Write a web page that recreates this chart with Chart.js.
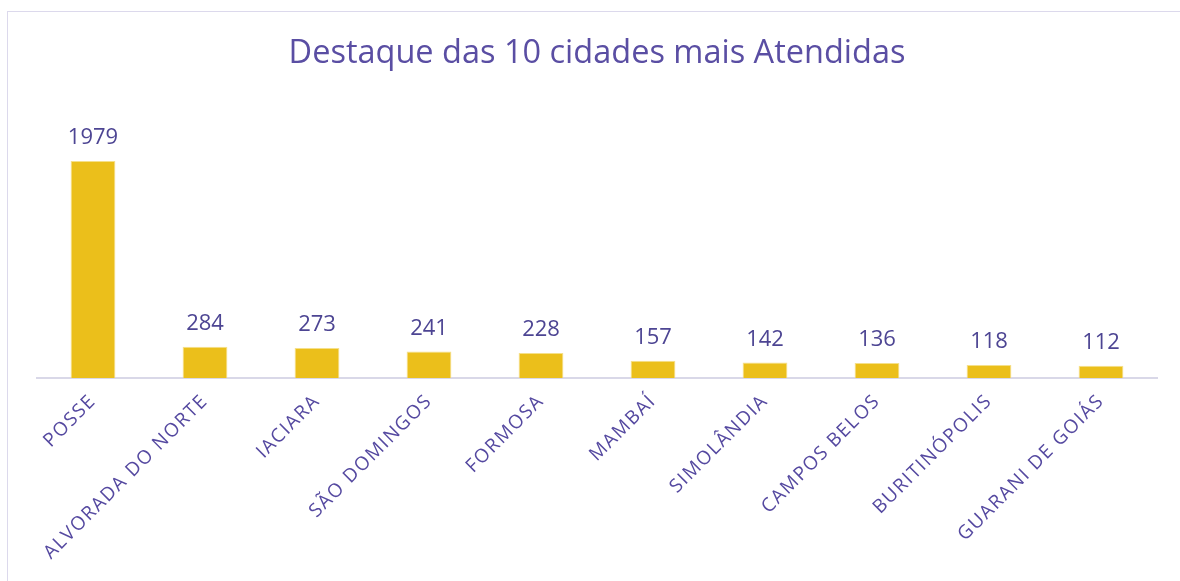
<!DOCTYPE html>
<html>
<head>
<meta charset="utf-8">
<script src="https://cdn.jsdelivr.net/npm/chart.js@4/dist/chart.umd.min.js"></script>
<style>
  html, body { margin: 0; padding: 0; background: #fff; overflow: hidden; }
  #wrap { position: relative; width: 1180px; height: 581px; }
  #frame { position: absolute; left: 7px; top: 11px; width: 1200px; height: 600px; border: 1px solid #dcd9ec; box-sizing: border-box; }
  canvas { position: absolute; left: 0; top: 0; }
</style>
</head>
<body>
<div id="wrap">
  <div id="frame"></div>
  <canvas id="chart" width="1180" height="581"></canvas>
</div>
<script>
const cities = ['POSSE', 'ALVORADA DO NORTE', 'IACIARA', 'SÃO DOMINGOS', 'FORMOSA', 'MAMBAÍ', 'SIMOLÂNDIA', 'CAMPOS BELOS', 'BURITINÓPOLIS', 'GUARANI DE GOIÁS'];
const atendimentos = [1979, 284, 273, 241, 228, 157, 142, 136, 118, 112];
const titleText = 'Destaque das 10 cidades mais Atendidas';

const fontName = '"Open Sans", "DejaVu Sans", sans-serif';

// the original tick font is wider, so space the letters out a little
const wideText = {
  id: 'wideText',
  beforeUpdate(chart) { chart.ctx.letterSpacing = '1.5px'; },
  beforeDraw(chart) { chart.ctx.letterSpacing = '1.5px'; }
};

// title and values above the bars
const valueLabels = {
  id: 'valueLabels',
  afterDatasetsDraw(chart) {
    const ctx = chart.ctx;
    const meta = chart.getDatasetMeta(0);
    ctx.save();
    ctx.letterSpacing = '0px';
    ctx.fillStyle = '#4d4593';
    ctx.font = '22px ' + fontName;
    ctx.textAlign = 'center';
    ctx.textBaseline = 'middle';
    meta.data.forEach((bar, i) => {
      ctx.fillText(String(chart.data.datasets[0].data[i]), bar.x, bar.y - 23);
    });

    ctx.fillStyle = '#5a4ea3';
    ctx.font = '32.5px ' + fontName;
    ctx.textBaseline = 'alphabetic';
    ctx.fillText(titleText, 597, 63);
    ctx.restore();
  }
};

const ctx = document.getElementById('chart').getContext('2d');
new Chart(ctx, {
  type: 'bar',
  data: {
    labels: cities,
    datasets: [{
      label: 'Atendimentos',
      data: atendimentos,
      backgroundColor: '#ebbf1b',
      borderColor: '#f5e08a',
      borderWidth: 1,
      categoryPercentage: 1,
      barPercentage: 0.4
    }]
  },
  options: {
    responsive: false,
    animation: false,
    layout: { padding: { left: 37, right: 23, top: 104, bottom: 0 } },
    plugins: {
      legend: { display: false },
      tooltip: { enabled: false },
      title: { display: false }
    },
    scales: {
      x: {
        grid: { display: false },
        border: { display: true, color: '#d9d8e8', width: 2 },
        ticks: {
          color: '#5549a0',
          font: { family: fontName, size: 19 },
          minRotation: 45,
          maxRotation: 45,
          autoSkip: false,
          padding: 4
        },
        afterFit(scale) { scale.height = 203; }
      },
      y: {
        display: false,
        min: 0,
        max: 2500
      }
    }
  },
  plugins: [wideText, valueLabels]
});
</script>
</body>
</html>
